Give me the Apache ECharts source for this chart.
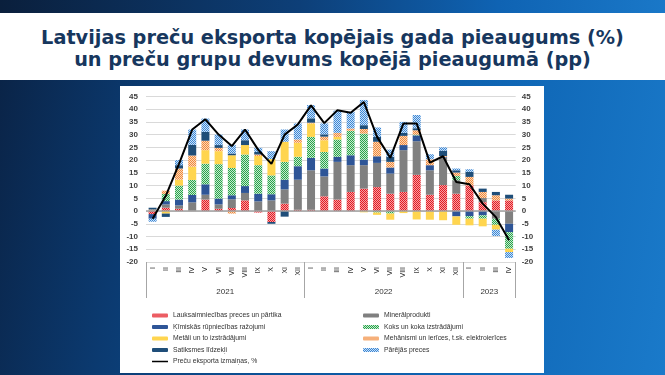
<!DOCTYPE html>
<html><head><meta charset="utf-8">
<script src="https://cdn.jsdelivr.net/npm/echarts@6/dist/echarts.min.js"></script>
<style>
html,body{margin:0;padding:0;width:665px;height:375px;overflow:hidden;}
body{position:relative;background:linear-gradient(100deg,#0a2244 0%,#0b3a70 22%,#0c559c 48%,#0f66b5 72%,#1a7aca 100%);}
#topbar{position:absolute;left:0;top:0;width:665px;height:13px;background:linear-gradient(90deg,#0a1f3c 0%,#0d3f78 45%,#0f63b3 75%,#1a78c8 100%);}
#titlebox{position:absolute;left:0;top:13px;width:665px;height:67px;background:#fff;}
#title{position:absolute;left:0;top:14px;width:665px;text-align:center;font-family:'DejaVu Sans',sans-serif;font-weight:bold;font-size:19.3px;color:#17375e;line-height:22px;}
#chart{position:absolute;left:120px;top:86px;width:424px;height:287px;background:#fff;}
</style></head>
<body>
<div id="topbar"></div>
<div id="titlebox"><div id="title">Latvijas preču eksporta kopējais gada pieaugums (%)<br>un preču grupu devums kopējā pieaugumā (pp)</div></div>
<div id="chart"></div>
<script>
const months = ['I','II','III','IV','V','VI','VII','VIII','IX','X','XI','XII',
                'I','II','III','IV','V','VI','VII','VIII','IX','X','XI','XII',
                'I','II','III','IV'];
const years = ['2021','2022','2023'];
const yearSpans = [12,12,4];
const yTicks = {min:-20, max:45, step:5};

const names = ['Lauksaimniecības preces un pārtika','Minerālprodukti','Ķīmiskās rūpniecības ražojumi','Koks un koka izstrādājumi','Metāli un to izstrādājumi','Mehānismi un ierīces, t.sk. elektroierīces','Satiksmes līdzekļi','Pārējās preces'];
const lineName = 'Preču eksporta izmaiņas, %';

const agri      = [-1.2,1.3,0.9,0.1,4.5,0.9,1.2,4.2,-0.6,-4.3,2.9,0.5, 0.5,5.8,4.5,7.5,8.8,9.4,6.8,7.5,14.2,6.4,10.2,6.8, 10.1,3.5,4.2,4.2];
const mineral   = [0.2,1.3,1.3,3.3,1.9,1.7,3.4,2.9,3.8,4.2,5.6,11.8, 15.5,7.8,14.8,10.5,9.2,9.5,7.9,16.4,13.2,9.6,10.8,5.3, 0,1.6,-3.0,-5.0];
const chemical  = [-1.8,1.3,2.3,2.9,4.1,2.3,1.6,2.7,3.0,2.4,3.8,5.3, 4.9,3.1,2.0,3.9,2.2,2.6,2.4,2.0,2.3,2.0,0.3,-2.1, -2.0,-1.7,0,-3.3];
const wood      = [0,2.8,5.5,5.9,8.1,13.5,10.7,12.4,11.2,7.4,7.0,3.7, 8.2,6.5,6.8,9.6,10.2,-0.6,-1.0,0,0.3,0,0,1.7, -1.0,-1.3,-2.4,-6.5];
const metals    = [0,-1.0,2.3,5.2,5.3,5.1,5.0,3.7,3.6,6.4,7.9,5.5, 5.3,4.6,1.0,0,-0.5,-0.9,-2.4,-0.8,-3.3,-3.4,-3.6,-3.3, -2.6,-3.0,-1.9,-1.3];
const machinery = [0.4,1.3,4.4,4.4,3.7,1.3,-1.0,0,0.6,0,0,1.3, 0.3,1.4,1.6,0.9,1.8,5.7,2.2,3.6,1.7,2.3,0.3,1.3, 3.3,2.4,2.0,0.7];
const transport = [0.7,-1.3,1.3,4.2,3.5,1.1,0.7,1.9,1.0,-0.7,-2.2,0, 1.7,0.9,0,0,1.5,1.9,2.0,1.2,0.8,0,2.1,0.9, 2.0,1.3,1.3,1.5];
const other     = [-1.2,0,2.0,6.0,5.2,4.1,3.3,4.2,1.6,3.1,4.8,6.3, 5.2,4.3,8.7,6.6,9.9,3.7,2.8,4.3,5.2,2.0,1.3,0.7, 1.0,0,-2.5,-2.3];
const total     = [-3,6,18.5,32,36,30,25.5,32,24,18.5,30,34, 41.5,34.5,39.6,38.6,42.8,29.1,20.9,34.4,34.4,19,21.5,11.4, 10.5,2.9,-2.4,-11.5];

const groups = [agri, mineral, chemical, wood, metals, machinery, transport, other];

function pat(c, light){
  const cv=document.createElement('canvas'); cv.width=2; cv.height=2;
  const x=cv.getContext('2d'); x.fillStyle=light; x.fillRect(0,0,2,2);
  x.fillStyle=c; x.fillRect(0,0,1,1); x.fillRect(1,1,1,1);
  return {image:cv, repeat:'repeat'};
}
const fills = [pat('#e31b23','#f6a0a3'),'#808080','#2e5597',pat('#2ca24b','#c4ecd0'),'#ffd54f',pat('#f08a3c','#fcd7b8'),'#1f4e79',pat('#3b86d6','#cce2f6')];

// year axis positions derived from spans
const bounds=[0]; const centers=[];
yearSpans.forEach((s,i)=>{ centers.push(bounds[i]+s/2); bounds.push(bounds[i]+s); });
const yearAt = {}; centers.forEach((c,i)=>yearAt[c]=years[i]);

const chart = echarts.init(document.getElementById('chart'), null, {renderer:'canvas'});
const barSeries = groups.map((d,i)=>({
  name:names[i], type:'bar', stack:'tot', data:d, barWidth:8,
  itemStyle:{color:fills[i]}, xAxisIndex:0, yAxisIndex:0
}));
const yBase = {type:'value', min:yTicks.min, max:yTicks.max, interval:yTicks.step,
  axisLine:{show:false}, axisTick:{show:false}};
const legText = {fontSize:6.8, color:'#333', fontFamily:'Liberation Sans', lineHeight:9};
const lineIcon = 'path://M0,0H0.01V0.01H0ZM0,4H0.01V4.01H0ZM0,1.2H16V2.8H0Z';
chart.setOption({
  animation:false,
  grid:{left:26, right:28.3, top:10.4, height:165.6, outerBoundsMode:'none', containLabel:false},
  legend:[
    {orient:'vertical', left:32, top:225, height:62, padding:0, itemWidth:16, itemHeight:4, itemGap:2.5, textStyle:legText,
     data:[names[0],names[2],names[4],names[6],{name:lineName, icon:lineIcon}]},
    {orient:'vertical', left:243, top:225, height:62, padding:0, itemWidth:16, itemHeight:4, itemGap:2.5, textStyle:legText,
     data:[names[1],names[3],names[5],names[7]]}
  ],
  xAxis:[
    {type:'category', data:months, position:'bottom', axisLine:{show:false, onZero:false}, axisTick:{show:false},
     axisLabel:{rotate:90, interval:0, fontSize:7, margin:5, color:'#222', fontFamily:'Liberation Sans'}},
    {type:'value', min:0, max:28, position:'bottom', axisLine:{show:false, onZero:false}, splitLine:{show:false},
     axisTick:{show:true, customValues:bounds, length:36, lineStyle:{color:'#a6a6a6', width:1}},
     axisLabel:{customValues:centers, margin:26, fontSize:8, color:'#333', fontFamily:'Liberation Sans',
       formatter:(v)=>yearAt[v]||''}}
  ],
  yAxis:[
    Object.assign({position:'left', splitLine:{show:true, lineStyle:{color:'#d9d9d9', width:1}},
      axisLabel:{fontSize:8, fontWeight:'bold', color:'#404040', margin:8, fontFamily:'Liberation Sans'}}, yBase),
    Object.assign({position:'right', splitLine:{show:false},
      axisLabel:{fontSize:8, fontWeight:'bold', color:'#404040', margin:6, fontFamily:'Liberation Sans'}}, yBase)
  ],
  series: barSeries.concat([{
    name:lineName, type:'line', data:total, symbol:'none', z:10,
    lineStyle:{color:'#000', width:2}, itemStyle:{color:'#000'},
    markLine:{silent:true, symbol:['none','none'], label:{show:false},
      lineStyle:{color:'#a0a0a0', width:1.5, type:'solid'}, data:[{yAxis:0}]}
  }])
});
</script>
</body></html>
